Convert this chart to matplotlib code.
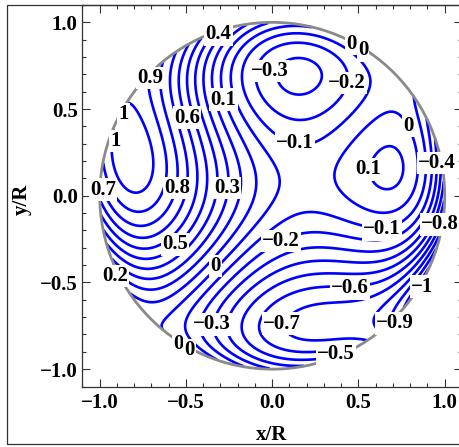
import numpy as np
import matplotlib
matplotlib.use("Agg")
import matplotlib.pyplot as plt
from matplotlib.patches import Circle, Rectangle
from matplotlib.ticker import FixedLocator, MultipleLocator

plt.rcParams['font.family'] = ['Liberation Serif', 'DejaVu Serif']
plt.rcParams['font.weight'] = 'bold'

# ---------------- data ----------------
# contour readings: each level with points (x/R, y/R) lying on it
contour_levels = [1.04, 1.0, 0.9, 0.8, 0.7, 0.6, 0.5, 0.4, 0.3, 0.2, 0.1, 0.0,
                  0.0, 0.1, 0.12, -0.1, -0.2, -0.3, -0.33,
                  -0.1, -0.2, -0.3, -0.4, -0.5, -0.6, -0.7, -0.8, -0.9]
contour_points = [
    [(-0.80, 0.28)],
    [(-0.852, 0.536), (-0.823, 0.507), (-0.736, 0.393), (-0.69, 0.258), (-0.678, 0.161),
     (-0.717, 0.056), (-0.775, 0.017), (-0.852, 0.056), (-0.90, 0.142), (-0.914, 0.258),
     (-0.906, 0.407)],
    [(-0.707, 0.680), (-0.717, 0.584), (-0.649, 0.450), (-0.619, 0.297), (-0.609, 0.161),
     (-0.628, 0.046), (-0.667, -0.01), (-0.736, -0.098), (-0.833, -0.088), (-0.92, -0.01),
     (-0.958, 0.133)],
    [(-0.610, 0.45), (-0.552, 0.161), (-0.552, 0.046)],
    [(-0.562, 0.45), (-0.494, 0.05)],
    [(-0.505, 0.45), (-0.436, 0.05)],
    [(-0.562, -0.281), (-0.379, 0.05), (-0.45, 0.45)],
    [(-0.311, 0.930), (-0.321, 0.05), (-0.40, 0.45)],
    [(-0.263, 0.046), (-0.36, 0.45)],
    [(-0.91, -0.463), (-0.16, 0.046), (-0.31, 0.45)],
    [(-0.282, 0.555), (-0.06, 0.04), (-0.25, 0.40)],
    [(-0.195, 0.546), (-0.118, 0.353), (-0.021, 0.258), (0.046, 0.036), (-0.33, -0.405),
     (-0.504, -0.646), (-0.64, -0.76)],
    [(0.626, 0.488), (0.79, 0.40), (0.829, 0.315), (0.829, -0.012), (0.375, 0.19),
     (0.529, -0.06), (0.76, -0.079), (0.539, 0.43)],
    [(0.558, 0.152), (0.539, 0.219), (0.626, 0.267), (0.723, 0.18), (0.684, 0.085),
     (0.636, 0.065)],
    [(0.64, 0.17)],
    [(-0.128, 0.536), (0.008, 0.382), (0.133, 0.305), (0.23, 0.305), (0.325, 0.353),
     (0.443, 0.45), (0.52, 0.546)],
    [(-0.07, 0.70), (0.143, 0.43), (0.433, 0.651), (0.143, 0.88)],
    [(-0.012, 0.70), (0.143, 0.555), (0.317, 0.70), (0.143, 0.80)],
    [(0.15, 0.68)],
    [(0.877, 0.19), (0.877, -0.01), (0.636, -0.194), (0.539, -0.156), (0.404, -0.127),
     (0.21, -0.086), (0.133, -0.098), (0.017, -0.156), (-0.52, -0.74)],
    [(0.906, 0.19), (0.916, -0.01), (0.50, -0.23), (0.307, -0.204), (0.172, -0.213),
     (0.046, -0.265), (-0.43, -0.74)],
    [(0.935, 0.19), (0.945, -0.01), (0.655, -0.30), (0.539, -0.329), (0.404, -0.30),
     (0.172, -0.30), (0.017, -0.367), (-0.35, -0.742)],
    [(0.955, 0.19), (0.974, -0.01), (0.539, -0.405), (0.404, -0.386), (0.172, -0.396),
     (0.017, -0.454), (-0.26, -0.75)],
    [(0.327, -0.46), (0.172, -0.473), (0.017, -0.521), (-0.16, -0.75), (0.017, -0.934)],
    [(0.452, -0.534), (0.133, -0.559), (0.017, -0.605), (-0.06, -0.74), (0.017, -0.857)],
    [(0.539, -0.588), (0.21, -0.626), (0.093, -0.646), (0.03, -0.73), (0.093, -0.80),
     (0.21, -0.818), (0.307, -0.836)],
    [(0.85, -0.38), (0.70, -0.58)],
    [(0.82, -0.50)],
]
# values on the rim of the pupil (angle in degrees, value)
rim_angle_deg = [0, 5, 11, 18, 24, 31, 40, 50, 62, 70, 80, 92, 100, 108, 120, 128, 136,
                 147, 152, 157, 170, 176, 181, 186, 191, 196, 201, 206, 211, 216, 228,
                 240, 250, 260, 272, 283, 291, 297, 303, 309, 314, 321, 328, 335, 342,
                 350, 355]
rim_value = [-0.57, -0.5, -0.42, -0.3, -0.2, -0.1, -0.07, -0.04, 0.0, 0.02, 0.03, 0.08,
             0.2, 0.4, 0.6, 0.75, 0.9, 1.0, 1.04, 1.0, 0.9, 0.8, 0.7, 0.6, 0.5, 0.4, 0.3,
             0.2, 0.1, 0.05, 0.02, 0.0, -0.1, -0.2, -0.3, -0.4, -0.5, -0.6, -0.7, -0.8,
             -0.9, -1.0, -1.05, -1.0, -0.9, -0.8, -0.7]

levels = [-1.0, -0.9, -0.8, -0.7, -0.6, -0.5, -0.4, -0.3, -0.2, -0.1, 0.0,
          0.1, 0.2, 0.3, 0.4, 0.5, 0.6, 0.7, 0.8, 0.9, 1.0]

label_text = ["0.4", "0.9", "1", "1", "0.7", "0.6", "0.1", "0.8", "0.3", "0.5", "0.2",
              "0", "0", "0", "\u22120.3", "\u22120.7", "\u22120.5", "\u22120.6", "\u22120.2",
              "\u22120.9", "\u22121", "\u22120.1", "\u22120.8", "\u22120.4", "0", "0.1",
              "\u22120.1", "\u22120.2", "\u22120.3", "0", "0"]
label_x = [-0.311, -0.707, -0.862, -0.910, -0.980, -0.495, -0.282, -0.552, -0.263, -0.562,
           -0.910, -0.330, -0.543, -0.480, -0.350, 0.058, 0.370, 0.452, 0.052, 0.713,
           0.868, 0.636, 0.974, 0.955, 0.790, 0.558, 0.133, 0.433, -0.012, 0.458, 0.526]
label_y = [0.930, 0.680, 0.469, 0.315, 0.035, 0.450, 0.555, 0.046, 0.046, -0.281, -0.463,
           -0.405, -0.856, -0.892, -0.742, -0.738, -0.915, -0.534, -0.262, -0.736, -0.524,
           -0.194, -0.165, 0.190, 0.402, 0.152, 0.305, 0.651, 0.719, 0.874, 0.839]

tick_values = [-1.0, -0.5, 0.0, 0.5, 1.0]
tick_labels = ["\u22121.0", "\u22120.5", "0.0", "0.5", "1.0"]

# ---------------- smooth surface through the readings ----------------
xs, ys, vs = [], [], []
for lev, pts in zip(contour_levels, contour_points):
    for (px_, py_) in pts:
        xs.append(px_); ys.append(py_); vs.append(lev)
th = np.deg2rad(rim_angle_deg)
xs = np.array(xs + list(np.cos(th)))
ys = np.array(ys + list(np.sin(th)))
vs = np.array(vs + list(rim_value))

DEG = 8
def basis(x, y):
    return np.stack([x**i * y**j for i in range(DEG + 1) for j in range(DEG + 1 - i)], axis=-1)

A = basis(xs, ys)
coef = np.linalg.solve(A.T @ A + 1e-3 * np.eye(A.shape[1]), A.T @ vs)

g = np.linspace(-1.0, 1.0, 601)
X, Y = np.meshgrid(g, g)
Z = basis(X, Y) @ coef
Z = np.ma.masked_where(X**2 + Y**2 > 1.0, Z)

# ---------------- figure ----------------
W, H = 460, 447
FS = 15
fig = plt.figure(figsize=(W / 100, H / 100), dpi=100)
ax = fig.add_axes([82.5 / W, (H - 386.5) / H, 379.5 / W, 381.5 / H])
ax.set_xlim(-1.1, 1.1)
ax.set_ylim(-1.1, 1.1)

ax.contour(X, Y, Z, levels=levels, colors='#0000ff', linewidths=1.9,
           linestyles='solid', zorder=2)
ax.add_patch(Circle((0, 0), 1.0, fill=False, ec='#8a8a8a', lw=2.0, zorder=3))

for t, x, y in zip(label_text, label_x, label_y):
    ax.text(x, y, t, fontsize=FS, ha='center', va='center', zorder=5,
            bbox=dict(boxstyle='square,pad=0.06', fc='white', ec='none'))

for axis in (ax.xaxis, ax.yaxis):
    axis.set_major_locator(FixedLocator(tick_values))
    axis.set_minor_locator(MultipleLocator(0.1))
ax.set_xticklabels(tick_labels)
ax.set_yticklabels(tick_labels)
ax.tick_params(which='both', direction='in', top=True, right=True, width=0.8,
               color='#333333', labelsize=FS)
ax.tick_params(which='major', length=5.8)
ax.tick_params(which='minor', length=3.2)
ax.tick_params(axis='x', which='major', pad=4.5)
ax.tick_params(axis='y', which='major', pad=3.5)
for s in ax.spines.values():
    s.set_color('#333333'); s.set_linewidth(0.9)

fig.text(272 / W, 1 - 435 / H, "x/R", ha='center', va='center', fontsize=FS)
fig.text(21.5 / W, 1 - 199 / H, "y/R", ha='center', va='center', fontsize=FS,
         rotation=90)
fig.add_artist(Rectangle((7 / W, 3 / H), 1.05, (444 - 5) / H, transform=fig.transFigure,
                         fill=False, ec='#333333', lw=0.9))

fig.savefig("out.png", dpi=100)
